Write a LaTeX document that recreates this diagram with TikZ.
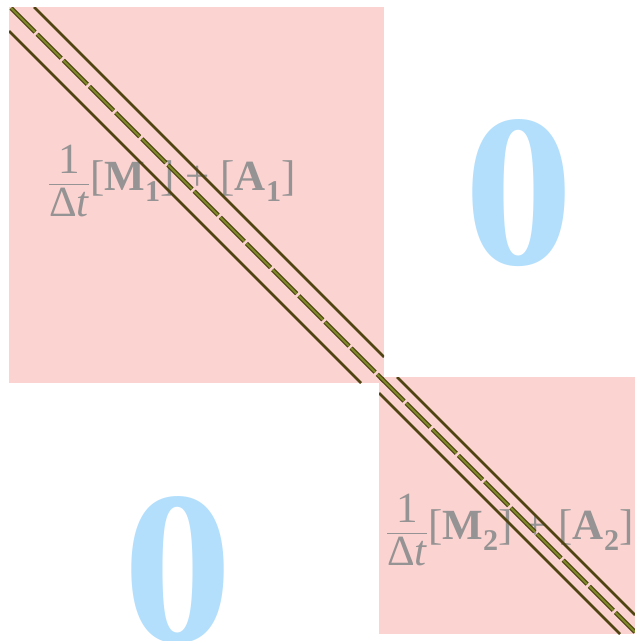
\documentclass[tikz,border=0pt]{standalone}
\usepackage{amsmath}
\usepackage{fontspec}
\setmainfont{Liberation Serif}
\usepackage{xcolor}
\usepackage{tikz}
\definecolor{blockpink}{HTML}{FBD3D1}
\definecolor{zeroblue}{HTML}{B3DFFC}
\definecolor{bandolive}{HTML}{4F4412}
\definecolor{bandlight}{HTML}{7F8A2A}
\definecolor{termgray}{HTML}{959393}
\newcommand{\bsub}[1]{_{\text{\bfseries #1}}}
\tikzset{
  block/.style={fill=blockpink, draw=none},
  zero/.style={text=zeroblue, font=\fontsize{218}{218}\selectfont\bfseries, inner sep=0pt},
  term/.style={text=termgray, font=\fontsize{43}{43}\selectfont, inner sep=0pt},
  band/.style={bandolive, line width=2.8pt},
  diagband/.style={draw=bandolive, double=bandlight, line width=1.2pt, double distance=2pt, dash pattern=on 34pt off 3pt},
}
\begin{document}
\begin{tikzpicture}[x=1pt, y=-1pt]
\useasboundingbox (0,0) rectangle (635,641);
\clip (0,0) rectangle (635,641);
% diagonal blocks
\fill[block] (9,7) rectangle (384,383);
\fill[block] (379,377) rectangle (635,634);
% zero blocks
\node[zero] (zeroup) at (519,193) {0};
\node[zero] (zerolow) at (178,570) {0};
% block terms
\node[term] (termone) at (172,181) {$\dfrac{\text{1}}{\text{Δ\itshape t}}\text{[\textbf{M}}\bsub{1}\text{] + [\textbf{A}}\bsub{1}\text{]}$};
\node[term] (termtwo) at (510,530) {$\dfrac{\text{1}}{\text{Δ\itshape t}}\text{[\textbf{M}}\bsub{2}\text{] + [\textbf{A}}\bsub{2}\text{]}$};
% bands of block 1
\begin{scope}
  \clip (9,7) rectangle (384,383);
  \draw[band] (34,7) -- (384,357);
  \draw[band] (9,31) -- (361,383);
  \draw[diagband] (11,8) -- (384,381);
\end{scope}
% bands of block 2
\begin{scope}
  \clip (379,377) rectangle (635,634);
  \draw[band] (397,377) -- (635,615);
  \draw[band] (379,393) -- (620,634);
  \draw[diagband] (380,377) -- (635,632);
\end{scope}
\end{tikzpicture}
\end{document}
